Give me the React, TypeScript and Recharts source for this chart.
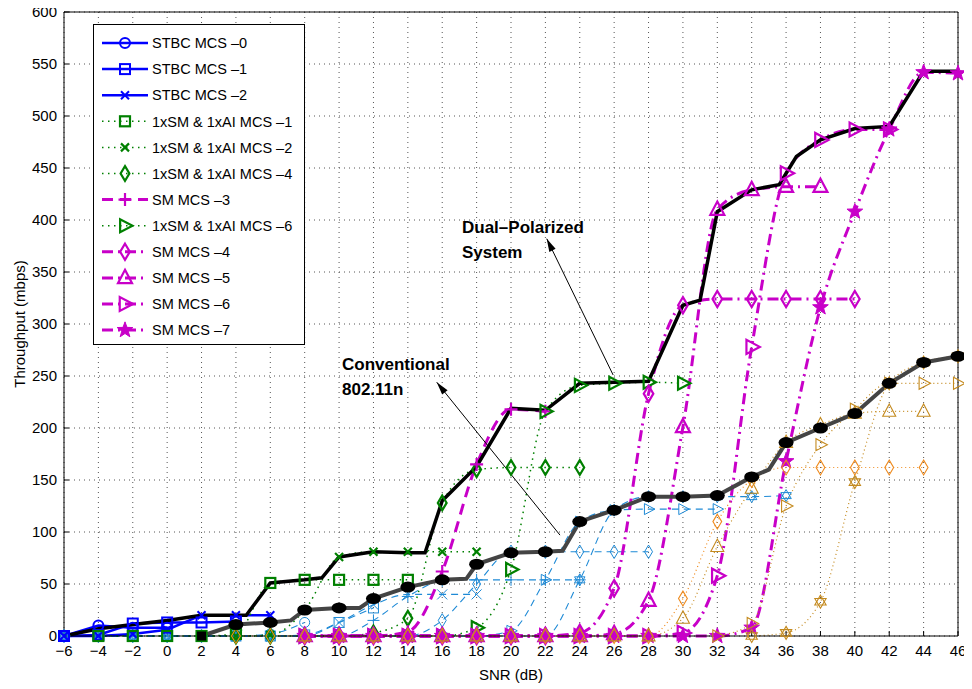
import React from 'react';
import { LineChart, Line, XAxis, YAxis, CartesianGrid, ReferenceLine, Label } from 'recharts';

// ---------- data ----------
const snr = [-6, -4, -2, 0, 2, 4, 6, 8, 10, 12, 14, 16, 18, 20, 22, 24, 26, 28, 30, 32, 34, 36, 38, 40, 42, 44, 46];
const yTicks = [0, 50, 100, 150, 200, 250, 300, 350, 400, 450, 500, 550, 600];
const _ = null;

// dual-polarized system (values per snr index)
const stbcMcs0 = [0, 10, 8, 8];
const stbcMcs1 = [0, 1, 12, 13, 13, 14];
const stbcMcs2 = [0, 0, 2, 6, 20, 20, 20];
const smAiMcs1 = [_, 0, 0, 0, 0, 2, 51, 54, 54, 54, 54];
const smAiMcs2 = [_, _, _, _, 0, 0, 1, 25, 76, 81, 81, 81, 81];
const smAiMcs4 = [_, _, _, _, _, 0, 0, 0, 0, 3, 17, 128, 160, 162, 162, 162];
const smMcs3 = [_, _, _, _, _, _, _, 0, 0, 0, 4, 62, 165, 218, 216];
const smAiMcs6 = [_, _, _, _, _, _, _, 0, 0, 0, 0, 0, 8, 64, 216, 241, 243, 244, 243];
const smMcs4 = [_, _, _, _, _, _, _, 0, 0, 0, 0, 0, 0, 0, 0, 3, 46, 233, 318, 324, 324, 324, 324, 324];
const smMcs5 = [_, _, _, _, _, _, _, 0, 0, 0, 0, 0, 0, 0, 0, 0, 2, 34, 201, 410, 429, 432, 432];
const smMcs6 = [_, _, _, _, _, _, _, 0, 0, 0, 0, 0, 0, 0, 0, 0, 0, 0, 3, 58, 278, 445, 477, 487, 487];
const smMcs7 = [_, _, _, _, _, _, _, 0, 0, 0, 0, 0, 0, 0, 0, 0, 0, 0, 0, 0, 8, 168, 316, 408, 487, 542, 541];

// conventional 802.11n
const convMcs0 = [0, 0, 0, 0, 0, 0, 2, 13];
const convMcs1 = [0, 0, 0, 0, 0, 0, 0, 1, 13, 27];
const convMcs2 = [0, 0, 0, 0, 0, 0, 0, 0, 13, 30, 40, 40, 40];
const convMcs3 = [0, 0, 0, 0, 0, 0, 0, 0, 0, 15, 38, 53, 54, 54, 54, 54];
const convMcs4 = [0, 0, 0, 0, 0, 0, 0, 0, 0, 0, 0, 15, 50, 81, 81, 81, 81, 81];
const convMcs5 = [0, 0, 0, 0, 0, 0, 0, 0, 0, 0, 0, 0, 0, 5, 54, 110, 121, 122, 122, 122];
const convMcs6 = [0, 0, 0, 0, 0, 0, 0, 0, 0, 0, 0, 0, 0, 0, 0, 54, 121, 134, 134, 134, 134, 135];
const convMcs12 = [_, _, _, _, _, 0, 0, 0, 0, 0, 0, 0, 0, 0, 0, 0, 0, 0, 36, 110, 150, 162, 162, 162, 162, 162];
const convMcs13 = [_, _, _, _, _, _, _, 0, 0, 0, 0, 0, 0, 0, 0, 0, 0, 0, 17, 86, 142, 186, 203, 214, 216, 216];
const convMcs14 = [_, _, _, _, _, _, _, _, _, _, _, _, _, _, _, _, _, _, _, 0, 12, 125, 184, 218, 243, 243, 243];
const convMcs15 = [_, _, _, _, _, _, _, _, _, _, _, _, _, _, _, _, _, _, _, _, 0, 3, 33, 148, 243, 263, 269];

// envelopes
const dualX = [-6, -4, -2, 0, 2, 4.6, 6, 8, 9, 10, 12, 14, 15, 16, 18, 20, 22, 24, 26, 28, 30, 31, 32, 34, 35.6, 36.6, 38, 40, 42, 44, 46];
const dualY = [0, 7, 11, 15, 20, 20, 51, 54, 56, 76, 81, 80, 80, 130, 163, 219, 217, 243, 244, 245, 318, 323, 408, 429, 434, 461, 477, 488, 490, 543, 543];
const convX = [2, 4, 6, 7.2, 8, 10, 11.2, 12, 14, 16, 17.4, 18, 20, 22, 23, 24, 26, 28, 30, 32, 34, 35, 36, 38, 40, 42, 44, 46];
const convY = [0, 11, 13, 15, 25, 27, 27, 36, 47, 54, 55, 69, 80, 81, 82, 110, 121, 134, 134, 135, 153, 160, 186, 200, 214, 243, 263, 269];

// annotations (data coordinates)
const dualArrow = [{ x: 22.08, y: 382 }, { x: 25.94, y: 251 }];
const convArrow = [{ x: 15.68, y: 244 }, { x: 22.85, y: 97 }];

// ---------- helpers ----------
const FONT = '"Liberation Sans", Arial, Helvetica, sans-serif';
const BLUE = '#0000ff';
const GREEN = '#008000';
const MAG = '#c800c8';
const LB = '#1e8ad6';
const ORANGE = '#ef8a1c';
const TAN = '#c48a1e';

const toPts = (vals: (number | null)[]) =>
  vals.map((v, i) => (v == null ? null : { x: snr[i], y: v })).filter((p) => p !== null) as { x: number; y: number }[];
const zip = (xs: number[], ys: number[]) => xs.map((x, i) => ({ x, y: ys[i] }));

function marker(shape: string, cx: number, cy: number, size: number, color: string, sw: number, fill = 'none') {
  const h = size / 2;
  const common = { stroke: color, strokeWidth: sw, fill };
  switch (shape) {
    case 'circle':
      return <circle cx={cx} cy={cy} r={h} {...common} />;
    case 'square':
      return <rect x={cx - h} y={cy - h} width={size} height={size} {...common} />;
    case 'x':
      return <path d={`M${cx - h},${cy - h}L${cx + h},${cy + h}M${cx - h},${cy + h}L${cx + h},${cy - h}`} {...common} />;
    case 'plus':
      return <path d={`M${cx - h},${cy}L${cx + h},${cy}M${cx},${cy - h}L${cx},${cy + h}`} {...common} />;
    case 'diamond':
      return <polygon points={`${cx},${cy - h * 1.35} ${cx + h * 0.8},${cy} ${cx},${cy + h * 1.35} ${cx - h * 0.8},${cy}`} {...common} />;
    case 'triangle':
      return <polygon points={`${cx},${cy - h * 1.15} ${cx + h},${cy + h * 0.75} ${cx - h},${cy + h * 0.75}`} {...common} />;
    case 'rtri':
      return <polygon points={`${cx + h * 1.15},${cy} ${cx - h * 0.75},${cy - h} ${cx - h * 0.75},${cy + h}`} {...common} />;
    case 'star': {
      const pts: string[] = [];
      for (let k = 0; k < 10; k++) {
        const r = k % 2 === 0 ? h * 1.1 : h * 0.45;
        const a = -Math.PI / 2 + (k * Math.PI) / 5;
        pts.push(`${cx + r * Math.cos(a)},${cy + r * Math.sin(a)}`);
      }
      return <polygon points={pts.join(' ')} stroke={color} strokeWidth={sw} fill={color} />;
    }
    case 'hex': {
      const t1 = `${cx},${cy - h} ${cx + h * 0.87},${cy + h * 0.5} ${cx - h * 0.87},${cy + h * 0.5}`;
      const t2 = `${cx},${cy + h} ${cx + h * 0.87},${cy - h * 0.5} ${cx - h * 0.87},${cy - h * 0.5}`;
      return (
        <g>
          <polygon points={t1} {...common} />
          <polygon points={t2} {...common} />
        </g>
      );
    }
    default:
      return null;
  }
}

type Cfg = {
  key: string;
  name: string;
  vals: (number | null)[];
  color: string;
  width: number;
  dash?: string;
  shape: string;
  size: number;
  sw: number;
  curve: 'linear' | 'monotone';
};

const SERIES: Cfg[] = [
  // conventional (light blue, dashed)
  { key: 'c0', name: 'Conv MCS 0', vals: convMcs0, color: LB, width: 1.1, dash: '7 5', shape: 'circle', size: 10, sw: 1, curve: 'monotone' },
  { key: 'c1', name: 'Conv MCS 1', vals: convMcs1, color: LB, width: 1.1, dash: '7 5', shape: 'square', size: 10, sw: 1, curve: 'monotone' },
  { key: 'c2', name: 'Conv MCS 2', vals: convMcs2, color: LB, width: 1.1, dash: '7 5', shape: 'x', size: 10, sw: 1, curve: 'monotone' },
  { key: 'c3', name: 'Conv MCS 3', vals: convMcs3, color: LB, width: 1.1, dash: '7 5', shape: 'plus', size: 12, sw: 1, curve: 'monotone' },
  { key: 'c4', name: 'Conv MCS 4', vals: convMcs4, color: LB, width: 1.1, dash: '7 5', shape: 'diamond', size: 10, sw: 1, curve: 'monotone' },
  { key: 'c5', name: 'Conv MCS 5', vals: convMcs5, color: LB, width: 1.1, dash: '7 5', shape: 'rtri', size: 11, sw: 1, curve: 'monotone' },
  { key: 'c6', name: 'Conv MCS 6', vals: convMcs6, color: LB, width: 1.1, dash: '7 5', shape: 'hex', size: 12, sw: 1, curve: 'monotone' },
  // dual polarized
  { key: 's0', name: 'STBC MCS –0', vals: stbcMcs0, color: BLUE, width: 2.5, shape: 'circle', size: 10, sw: 2, curve: 'linear' },
  { key: 's1', name: 'STBC MCS –1', vals: stbcMcs1, color: BLUE, width: 2.5, shape: 'square', size: 10, sw: 2, curve: 'linear' },
  { key: 's2', name: 'STBC MCS –2', vals: stbcMcs2, color: BLUE, width: 2.5, shape: 'x', size: 8, sw: 2, curve: 'linear' },
  { key: 'g1', name: '1xSM & 1xAI MCS –1', vals: smAiMcs1, color: GREEN, width: 1.5, dash: '1.5 4.5', shape: 'square', size: 10, sw: 2.2, curve: 'monotone' },
  { key: 'g2', name: '1xSM & 1xAI MCS –2', vals: smAiMcs2, color: GREEN, width: 1.5, dash: '1.5 4.5', shape: 'x', size: 8, sw: 2.2, curve: 'monotone' },
  { key: 'g4', name: '1xSM & 1xAI MCS –4', vals: smAiMcs4, color: GREEN, width: 1.5, dash: '1.5 4.5', shape: 'diamond', size: 11, sw: 2.2, curve: 'monotone' },
  { key: 'm3', name: 'SM MCS –3', vals: smMcs3, color: MAG, width: 3, dash: '11 7', shape: 'plus', size: 13, sw: 2.2, curve: 'monotone' },
  { key: 'g6', name: '1xSM & 1xAI MCS –6', vals: smAiMcs6, color: GREEN, width: 1.5, dash: '1.5 4.5', shape: 'rtri', size: 13, sw: 2.2, curve: 'monotone' },
  { key: 'm4', name: 'SM MCS –4', vals: smMcs4, color: MAG, width: 3, dash: '11 5 2 5', shape: 'diamond', size: 12, sw: 2.2, curve: 'monotone' },
  { key: 'm5', name: 'SM MCS –5', vals: smMcs5, color: MAG, width: 3, dash: '11 5 2 5', shape: 'triangle', size: 14, sw: 2.2, curve: 'monotone' },
  { key: 'm6', name: 'SM MCS –6', vals: smMcs6, color: MAG, width: 3, dash: '11 5 2 5', shape: 'rtri', size: 14, sw: 2.2, curve: 'monotone' },
  { key: 'm7', name: 'SM MCS –7', vals: smMcs7, color: MAG, width: 3, dash: '11 5 2 5', shape: 'star', size: 15, sw: 1, curve: 'monotone' },
  // conventional higher MCS (orange, dotted)
  { key: 'o1', name: 'Conv MCS 12', vals: convMcs12, color: ORANGE, width: 1.2, dash: '1 3', shape: 'diamond', size: 11, sw: 1.1, curve: 'monotone' },
  { key: 'o2', name: 'Conv MCS 13', vals: convMcs13, color: TAN, width: 1.2, dash: '1 3', shape: 'triangle', size: 13, sw: 1.1, curve: 'monotone' },
  { key: 'o3', name: 'Conv MCS 14', vals: convMcs14, color: TAN, width: 1.2, dash: '1 3', shape: 'rtri', size: 12, sw: 1.1, curve: 'monotone' },
  { key: 'o4', name: 'Conv MCS 15', vals: convMcs15, color: TAN, width: 1.2, dash: '1 3', shape: 'hex', size: 13, sw: 1.1, curve: 'monotone' },
];

const LEGEND_ORDER = ['s0', 's1', 's2', 'g1', 'g2', 'g4', 'm3', 'g6', 'm4', 'm5', 'm6', 'm7'];

const fmt = (v: number) => (v < 0 ? `\u2212${-v}` : `${v}`);

const dotFn = (c: Cfg) => (p: any) => {
  const { cx, cy, index } = p;
  if (cx == null || cy == null) return <g key={`${c.key}-e${index}`} />;
  return <g key={`${c.key}-${index}`}>{marker(c.shape, cx, cy, c.size, c.color, c.sw)}</g>;
};

const convDot = (p: any) => {
  const { cx, cy, index, payload } = p;
  if (cx == null || cy == null) return <g key={`cv-e${index}`} />;
  if (index === 0) return <rect key={`cv-${index}`} x={cx - 4.5} y={cy - 4.5} width={9} height={9} fill="#000" />;
  if (payload && Number.isInteger(payload.x / 2))
    return <ellipse key={`cv-${index}`} cx={cx} cy={cy} rx={7.5} ry={5.5} fill="#000" />;
  return <g key={`cv-e${index}`} />;
};

const arrowShape = (p: any) => {
  const { x1, y1, x2, y2 } = p;
  const ang = Math.atan2(y1 - y2, x1 - x2);
  const L = 13;
  const W = 3.5;
  const bx = x1 - L * Math.cos(ang);
  const by = y1 - L * Math.sin(ang);
  const lx = bx + W * Math.sin(ang);
  const ly = by - W * Math.cos(ang);
  const rx = bx - W * Math.sin(ang);
  const ry = by + W * Math.cos(ang);
  return (
    <g>
      <line x1={x1} y1={y1} x2={x2} y2={y2} stroke="#000" strokeWidth={1} />
      <polygon points={`${x1},${y1} ${lx},${ly} ${rx},${ry}`} fill="#000" />
    </g>
  );
};

const YTitle = (props: any) => {
  const vb = props.viewBox || { y: 14, height: 624 };
  const cy = vb.y + vb.height / 2;
  const x = 17;
  return (
    <text x={x} y={cy} transform={`rotate(-90 ${x} ${cy})`} textAnchor="middle" fontSize={15} fontFamily={FONT} fill="#000">
      Throughput (mbps)
    </text>
  );
};

// container is shifted 10px up so that the top tick label is not clipped
const SHIFT = 10;

function LegendBox() {
  const rows = LEGEND_ORDER.map((k) => SERIES.find((s) => s.key === k)!);
  const W = 212;
  const H = 321;
  return (
    <svg width={W} height={H} style={{ position: 'absolute', left: 85, top: 16 + SHIFT }}>
      <rect x={0.5} y={0.5} width={W - 1} height={H - 1} fill="#fff" stroke="#000" strokeWidth={1} />
      {rows.map((s, i) => {
        const y = 19 + i * 26.1;
        return (
          <g key={s.key}>
            <line x1={9} y1={y} x2={55} y2={y} stroke={s.color} strokeWidth={s.width} strokeDasharray={s.dash} />
            {marker(s.shape, 32, y, s.size, s.color, s.sw)}
            <text x={59} y={y + 5.2} fontSize={14.5} fontFamily={FONT} fill="#000">
              {s.name}
            </text>
          </g>
        );
      })}
    </svg>
  );
}

export default function App() {
  return (
    <div style={{ position: 'relative', width: 964, height: 691, marginTop: -SHIFT, background: '#fff' }}>
      <LineChart width={964} height={691} margin={{ top: 4 + SHIFT, right: 14, bottom: 0, left: 0 }}>
        <CartesianGrid stroke="#555" strokeDasharray="1 4" />
        <XAxis
          type="number"
          dataKey="x"
          domain={[-6, 46]}
          ticks={snr}
          interval={0}
          height={53}
          tickSize={-5}
          tickMargin={14}
          tickFormatter={fmt}
          axisLine={{ stroke: '#000' }}
          tickLine={{ stroke: '#000' }}
          tick={{ fill: '#000', fontSize: 15, fontFamily: FONT }}
          allowDuplicatedCategory={false}
        >
          <Label value="SNR (dB)" position="insideBottom" offset={9} fill="#000" fontSize={15} fontFamily={FONT} />
        </XAxis>
        <YAxis
          type="number"
          domain={[0, 600]}
          ticks={yTicks}
          interval={0}
          width={56}
          tickSize={-5}
          tickMargin={12}
          axisLine={{ stroke: '#000' }}
          tickLine={{ stroke: '#000' }}
          tick={{ fill: '#000', fontSize: 15, fontFamily: FONT }}
          label={<Label content={YTitle} />}
        />
        <ReferenceLine y={600} stroke="#000" strokeWidth={1} />
        <ReferenceLine x={46} stroke="#000" strokeWidth={1} />
        {SERIES.map((c) => (
          <Line
            key={c.key}
            data={toPts(c.vals)}
            dataKey="y"
            name={c.name}
            type={c.curve}
            stroke={c.color}
            strokeWidth={c.width}
            strokeDasharray={c.dash}
            dot={dotFn(c)}
            activeDot={false}
            isAnimationActive={false}
          />
        ))}
        <Line
          key="convEnv"
          data={zip(convX, convY)}
          dataKey="y"
          name="Conventional 802.11n"
          type="linear"
          stroke="#444"
          strokeWidth={4}
          dot={convDot}
          activeDot={false}
          isAnimationActive={false}
        />
        <Line
          key="dualEnv"
          data={zip(dualX, dualY)}
          dataKey="y"
          name="Dual-Polarized System"
          type="linear"
          stroke="#000"
          strokeWidth={3.5}
          dot={false}
          activeDot={false}
          isAnimationActive={false}
        />
        <ReferenceLine segment={dualArrow} shape={arrowShape} />
        <ReferenceLine segment={convArrow} shape={arrowShape} />
      </LineChart>
      <svg width={964} height={691} style={{ position: 'absolute', left: 0, top: 0, pointerEvents: 'none' }}>
        <g fontFamily={FONT} fontWeight="bold" fontSize={17} fill="#000">
          <text x={454} y={224.5 + SHIFT}>Dual–Polarized</text>
          <text x={454} y={249.5 + SHIFT}>System</text>
          <text x={334} y={361.5 + SHIFT}>Conventional</text>
          <text x={334} y={386.5 + SHIFT}>802.11n</text>
        </g>
      </svg>
      <LegendBox />
    </div>
  );
}
